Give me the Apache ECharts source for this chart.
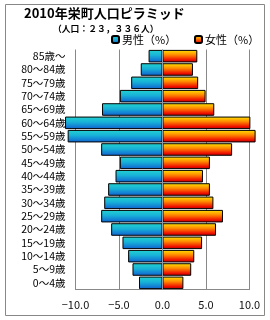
<!DOCTYPE html>
<html><head><meta charset="utf-8">
<script src="https://cdn.jsdelivr.net/npm/echarts@6/dist/echarts.min.js"></script>
<style>html,body{margin:0;padding:0;background:#fff}#c{width:270px;height:320px}</style>
</head><body><div id="c"></div>
<script>
const categories = ['0～4歳','5～9歳','10～14歳','15～19歳','20～24歳','25～29歳','30～34歳','35～39歳','40～44歳','45～49歳','50～54歳','55～59歳','60～64歳','65～69歳','70～74歳','75～79歳','80～84歳','85歳～'];
const male = [-2.7,-3.45,-3.95,-4.6,-5.9,-7.05,-6.7,-6.25,-5.4,-4.9,-7.05,-10.9,-11.2,-6.95,-4.9,-3.6,-2.5,-1.6];
const female = [2.4,3.3,3.65,4.55,6.15,6.95,5.85,5.45,4.65,5.45,8.0,10.7,10.1,5.95,4.95,4.1,3.5,4.0];
const xTicks = [-10,-5,0,5,10];
const F = '"Noto Sans CJK JP", sans-serif';
const chart = echarts.init(document.getElementById('c'));
const maleGrad = new echarts.graphic.LinearGradient(0,0,0,1,[
  {offset:0,color:'#22d4d0'},{offset:0.45,color:'#18b0d8'},{offset:1,color:'#0f5fd0'}]);
const femGrad = new echarts.graphic.LinearGradient(0,0,0,1,[
  {offset:0,color:'#ffe600'},{offset:0.4,color:'#ff8a00'},{offset:0.8,color:'#f01000'},{offset:1,color:'#b00000'}]);
chart.setOption({
  animation:false,
  graphic:[{type:'rect',shape:{x:5.5,y:4.5,width:259,height:311},style:{fill:'none',stroke:'#888',lineWidth:1},silent:true}],
  title:[
    {text:'2010年栄町人口ピラミッド',left:24,top:7,padding:0,textStyle:{fontFamily:F,fontSize:13,fontWeight:'bold',color:'#000'}},
    {text:'（人口：２３，３３６人）',left:53,top:24,padding:0,textStyle:{fontFamily:F,fontSize:8.8,fontWeight:'bold',color:'#000'}}
  ],
  legend:[
    {data:['男性（%）'],left:111,top:34,padding:0,itemWidth:7,itemHeight:7,itemGap:3,textStyle:{fontFamily:F,fontSize:11,color:'#000',padding:[0,0,0,-2]}},
    {data:['女性（%）'],left:194,top:34,padding:0,itemWidth:7,itemHeight:7,itemGap:3,textStyle:{fontFamily:F,fontSize:11,color:'#000',padding:[0,0,0,-2]}}
  ],
  grid:{left:75.5,right:20.5,top:49.5,bottom:30.5,containLabel:false},
  xAxis:{type:'value',min:xTicks[0],max:xTicks[xTicks.length-1],interval:5,
    axisLine:{show:true,lineStyle:{color:'#888'}},axisTick:{show:false},
    splitLine:{show:true,lineStyle:{color:'#888',width:1}},
    axisLabel:{margin:10,fontFamily:F,fontSize:11,color:'#111',formatter:v=>(v<0?'−':'')+Math.abs(v).toFixed(1)}},
  yAxis:{type:'category',data:categories,axisLine:{show:false},axisTick:{show:false},
    axisLabel:{interval:0,margin:10,fontFamily:F,fontSize:10.5,color:'#000'}},
  series:[
    {name:'男性（%）',type:'bar',data:male,barGap:'-100%',barCategoryGap:'6%',clip:false,
      itemStyle:{color:maleGrad,borderColor:'#000',borderWidth:1}},
    {name:'女性（%）',type:'bar',data:female,barGap:'-100%',barCategoryGap:'6%',clip:false,
      itemStyle:{color:femGrad,borderColor:'#000',borderWidth:1},
      markLine:{silent:true,symbol:'none',label:{show:false},lineStyle:{color:'#8a9aa8',type:'solid',width:1},data:[{xAxis:0}]}}
  ]
});
</script></body></html>
